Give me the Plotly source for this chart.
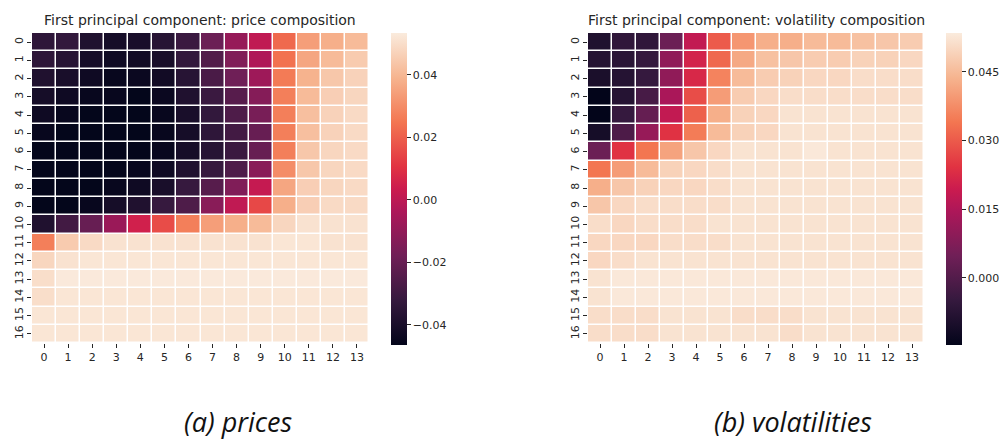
import plotly.graph_objects as go

rows = [str(i) for i in range(17)]
cols = [str(j) for j in range(14)]

price_values = [
    [-0.034, -0.033, -0.038, -0.041, -0.040, -0.036, -0.031, -0.019, -0.009, 0.001, 0.022, 0.034, 0.038, 0.041],
    [-0.034, -0.036, -0.041, -0.043, -0.042, -0.040, -0.033, -0.025, -0.014, -0.003, 0.024, 0.036, 0.041, 0.045],
    [-0.038, -0.040, -0.043, -0.045, -0.044, -0.042, -0.036, -0.027, -0.018, -0.007, 0.026, 0.039, 0.044, 0.047],
    [-0.041, -0.043, -0.045, -0.045, -0.046, -0.044, -0.038, -0.031, -0.024, -0.013, 0.027, 0.041, 0.046, 0.048],
    [-0.043, -0.045, -0.046, -0.046, -0.046, -0.045, -0.040, -0.033, -0.026, -0.016, 0.027, 0.042, 0.047, 0.049],
    [-0.045, -0.046, -0.046, -0.046, -0.046, -0.045, -0.041, -0.034, -0.029, -0.020, 0.027, 0.042, 0.047, 0.049],
    [-0.046, -0.046, -0.046, -0.046, -0.046, -0.045, -0.041, -0.036, -0.031, -0.020, 0.027, 0.044, 0.048, 0.049],
    [-0.046, -0.046, -0.046, -0.046, -0.045, -0.043, -0.038, -0.032, -0.026, -0.012, 0.030, 0.044, 0.048, 0.049],
    [-0.046, -0.046, -0.046, -0.045, -0.043, -0.040, -0.032, -0.024, -0.014, 0.002, 0.036, 0.046, 0.048, 0.049],
    [-0.046, -0.046, -0.045, -0.041, -0.038, -0.032, -0.026, -0.012, 0.001, 0.015, 0.038, 0.046, 0.049, 0.049],
    [-0.038, -0.029, -0.020, -0.008, 0.005, 0.016, 0.027, 0.034, 0.038, 0.041, 0.048, 0.051, 0.051, 0.051],
    [0.027, 0.045, 0.049, 0.051, 0.051, 0.051, 0.051, 0.051, 0.051, 0.051, 0.052, 0.052, 0.051, 0.051],
    [0.048, 0.051, 0.052, 0.052, 0.052, 0.052, 0.052, 0.052, 0.052, 0.052, 0.052, 0.052, 0.052, 0.052],
    [0.050, 0.053, 0.053, 0.053, 0.053, 0.053, 0.053, 0.053, 0.053, 0.053, 0.053, 0.053, 0.053, 0.053],
    [0.050, 0.052, 0.052, 0.052, 0.052, 0.052, 0.052, 0.052, 0.052, 0.052, 0.052, 0.052, 0.052, 0.052],
    [0.052, 0.052, 0.052, 0.052, 0.052, 0.052, 0.052, 0.052, 0.052, 0.052, 0.052, 0.052, 0.052, 0.052],
    [0.052, 0.052, 0.052, 0.052, 0.052, 0.052, 0.052, 0.052, 0.052, 0.052, 0.052, 0.052, 0.052, 0.052],
]

vol_values = [
    [-0.009, -0.006, -0.006, 0.004, 0.018, 0.030, 0.039, 0.043, 0.043, 0.045, 0.045, 0.046, 0.047, 0.048],
    [-0.008, -0.007, -0.005, 0.010, 0.021, 0.032, 0.042, 0.046, 0.047, 0.048, 0.048, 0.049, 0.049, 0.050],
    [-0.010, -0.008, -0.005, 0.010, 0.022, 0.036, 0.045, 0.048, 0.049, 0.050, 0.050, 0.051, 0.051, 0.051],
    [-0.015, -0.008, -0.002, 0.014, 0.028, 0.040, 0.048, 0.050, 0.051, 0.051, 0.051, 0.051, 0.051, 0.051],
    [-0.015, -0.005, 0.003, 0.018, 0.031, 0.043, 0.049, 0.050, 0.052, 0.052, 0.052, 0.052, 0.052, 0.052],
    [-0.011, -0.001, 0.011, 0.024, 0.035, 0.045, 0.049, 0.050, 0.052, 0.052, 0.052, 0.052, 0.052, 0.052],
    [0.004, 0.024, 0.034, 0.041, 0.047, 0.050, 0.052, 0.052, 0.052, 0.053, 0.052, 0.052, 0.052, 0.052],
    [0.034, 0.040, 0.045, 0.049, 0.050, 0.051, 0.052, 0.052, 0.052, 0.052, 0.052, 0.052, 0.052, 0.052],
    [0.043, 0.047, 0.049, 0.050, 0.050, 0.051, 0.052, 0.052, 0.052, 0.052, 0.052, 0.052, 0.052, 0.052],
    [0.047, 0.050, 0.051, 0.051, 0.051, 0.051, 0.052, 0.052, 0.052, 0.052, 0.052, 0.052, 0.052, 0.052],
    [0.051, 0.050, 0.051, 0.051, 0.051, 0.052, 0.052, 0.052, 0.052, 0.052, 0.052, 0.052, 0.052, 0.052],
    [0.050, 0.050, 0.050, 0.051, 0.051, 0.051, 0.052, 0.052, 0.052, 0.052, 0.052, 0.052, 0.052, 0.052],
    [0.050, 0.051, 0.052, 0.052, 0.052, 0.052, 0.052, 0.052, 0.052, 0.052, 0.052, 0.052, 0.052, 0.052],
    [0.052, 0.053, 0.053, 0.053, 0.053, 0.053, 0.053, 0.053, 0.053, 0.053, 0.053, 0.053, 0.053, 0.053],
    [0.052, 0.053, 0.053, 0.053, 0.053, 0.053, 0.053, 0.053, 0.053, 0.053, 0.053, 0.053, 0.053, 0.053],
    [0.051, 0.051, 0.051, 0.052, 0.052, 0.052, 0.051, 0.051, 0.051, 0.052, 0.052, 0.052, 0.052, 0.052],
    [0.051, 0.051, 0.051, 0.052, 0.052, 0.052, 0.052, 0.052, 0.051, 0.052, 0.052, 0.052, 0.052, 0.052],
]

price_ticks = [-0.04, -0.02, 0.00, 0.02, 0.04]
price_ticktext = ["\u22120.04", "\u22120.02", "0.00", "0.02", "0.04"]
vol_ticks = [0.000, 0.015, 0.030, 0.045]
vol_ticktext = ["0.000", "0.015", "0.030", "0.045"]

titles = ["First principal component: price composition",
          "First principal component: volatility composition"]
captions = ["(a) prices", "(b) volatilities"]

# seaborn "rocket" colormap
rocket = [
    [0.0, "#03051a"], [0.143, "#35193e"], [0.286, "#701f57"], [0.429, "#ad1759"],
    [0.5, "#cb1b4f"], [0.571, "#e13342"], [0.714, "#f37651"], [0.857, "#f6b48f"],
    [1.0, "#faebdd"],
]

W, H = 1006, 441
def px_x(p): return p / W
def px_y(p): return 1 - p / H

fig = go.Figure()
tickfont = dict(family="DejaVu Sans", size=11, color="#262626")

def cbar(x, vals, text):
    return dict(x=px_x(x), xanchor="left", y=px_y(345), yanchor="bottom",
                len=312 / H, lenmode="fraction", thickness=16, outlinewidth=0,
                tickvals=vals, ticktext=text, ticks="outside",
                ticklen=4, tickcolor="#262626", tickfont=tickfont, xpad=0, ypad=0)

fig.add_trace(go.Heatmap(
    z=price_values, x=cols, y=rows, colorscale=rocket, zmin=-0.0464, zmax=0.0534,
    xgap=1.5, ygap=1.5, xaxis="x", yaxis="y",
    colorbar=cbar(391, price_ticks, price_ticktext),
))
fig.add_trace(go.Heatmap(
    z=vol_values, x=cols, y=rows, colorscale=rocket, zmin=-0.0147, zmax=0.0535,
    xgap=1.5, ygap=1.5, xaxis="x2", yaxis="y2",
    colorbar=cbar(946, vol_ticks, vol_ticktext),
))

axis_common = dict(showgrid=False, zeroline=False, showline=False, ticks="outside",
                   ticklen=4, tickcolor="#262626", tickfont=tickfont)
fig.update_layout(
    width=W, height=H, margin=dict(l=0, r=0, t=0, b=0, autoexpand=False),
    paper_bgcolor="white", plot_bgcolor="white",
    xaxis=dict(domain=[px_x(32), px_x(369)], anchor="y", **axis_common),
    yaxis=dict(domain=[px_y(343), px_y(33)], anchor="x", autorange="reversed",
               tickangle=-90, **axis_common),
    xaxis2=dict(domain=[px_x(588), px_x(924)], anchor="y2", **axis_common),
    yaxis2=dict(domain=[px_y(343), px_y(33)], anchor="x2", autorange="reversed",
                tickangle=-90, **axis_common),
    showlegend=False,
)

for cx, t in zip([200, 756], titles):
    fig.add_annotation(x=px_x(cx), y=px_y(20), xref="paper", yref="paper",
                       text=t, showarrow=False, xanchor="center", yanchor="middle",
                       font=dict(family="DejaVu Sans", size=14, color="#262626"))
for cx, t in zip([238, 793], captions):
    fig.add_annotation(x=px_x(cx), y=px_y(421), xref="paper", yref="paper",
                       text="<i>" + t + "</i>", showarrow=False, xanchor="center",
                       yanchor="middle",
                       font=dict(family="Open Sans", size=27, color="#111111"))

fig.write_html("out.html")
